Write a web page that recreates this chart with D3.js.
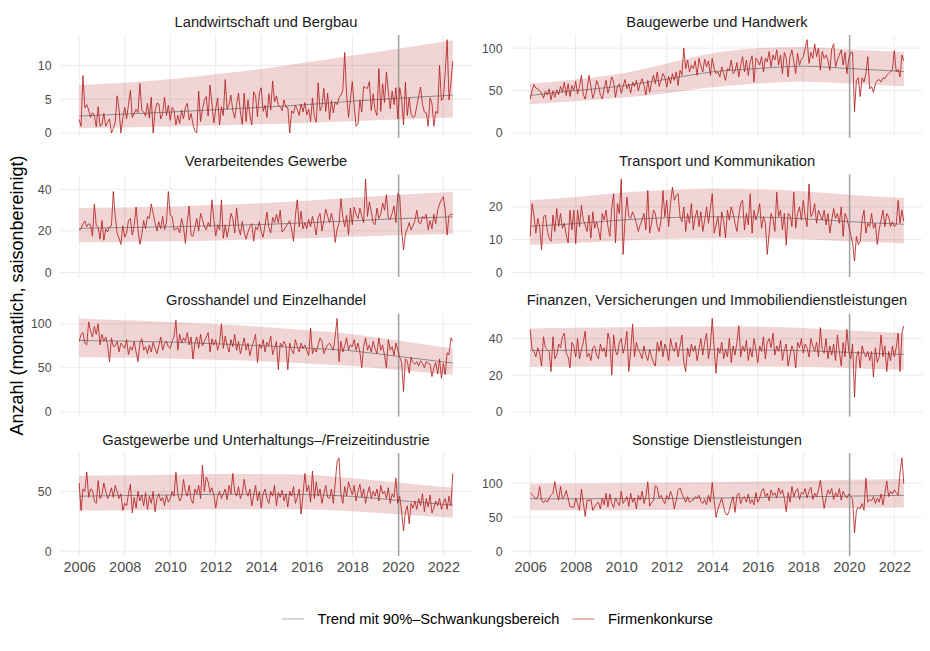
<!DOCTYPE html>
<html><head><meta charset="utf-8">
<script src="https://cdn.jsdelivr.net/npm/d3@7"></script>
<style>body{margin:0;background:#fff;} svg{display:block;font-family:"Liberation Sans",Arial,Helvetica,sans-serif;}</style>
</head><body><svg id="chart" width="930" height="651"></svg>
<script>
// ---------- data ----------
const startYear = 2006;            // first month: Jan 2006, monthly series
const panelTitles = [
  "Landwirtschaft und Bergbau", "Baugewerbe und Handwerk",
  "Verarbeitendes Gewerbe", "Transport und Kommunikation",
  "Grosshandel und Einzelhandel", "Finanzen, Versicherungen und Immobiliendienstleistungen",
  "Gastgewerbe und Unterhaltungs\u2013/Freizeitindustrie", "Sonstige Dienstleistungen"
];
const xTickYears = [2006,2008,2010,2012,2014,2016,2018,2020,2022];
const yTickValues = [[0,5,10],[0,50,100],[0,20,40],[0,10,20],[0,50,100],[0,20,40],[0,50],[0,50,100]];
const markerYear = 2020.04;
const legendLabels = ["Trend mit 90%\u2013Schwankungsbereich", "Firmenkonkurse"];
const yAxisTitle = "Anzahl (monatlich, saisonbereinigt)";

const landwirtschaft = [
2.0,1.0,8.5,3.7,4.2,3.4,2.3,3.0,2.6,0.9,3.9,1.0,
1.2,2.9,1.0,1.6,2.1,0.0,0.7,1.6,5.5,3.6,0.0,2.2,
3.8,2.1,4.2,6.3,2.3,2.9,3.5,3.0,7.3,3.4,3.1,2.5,
4.4,2.2,5.3,0.0,3.3,4.4,4.3,2.1,2.8,5.3,2.6,4.1,
1.9,3.8,3.4,1.2,2.6,1.4,3.4,2.1,3.8,4.4,1.9,2.9,
1.3,0.3,0.0,6.2,1.7,3.5,4.8,5.4,2.5,7.1,4.3,1.5,
3.6,5.2,1.2,3.9,2.6,7.9,3.5,4.2,5.6,3.3,2.2,4.2,
5.9,3.1,1.3,5.9,1.7,4.9,2.7,1.2,6.1,5.5,2.4,6.0,
6.7,3.2,4.1,2.3,5.8,3.4,7.7,4.6,5.5,4.1,3.9,3.3,
4.9,3.8,3.8,0.0,3.3,2.9,4.1,3.5,2.6,4.3,3.1,4.5,
2.7,3.5,1.7,5.2,2.4,1.6,7.4,3.3,3.9,6.6,3.2,5.9,
2.0,4.8,3.0,4.6,4.2,5.2,5.6,6.3,11.9,5.6,2.3,5.0,
7.6,4.0,1.0,1.3,4.9,3.1,6.9,6.7,6.6,7.6,3.3,5.8,
3.4,2.6,9.5,3.2,7.3,4.5,9.0,6.1,3.6,6.2,4.2,6.7,
2.1,6.7,5.1,1.2,7.5,2.6,5.2,2.8,2.3,2.5,4.0,5.5,
6.8,4.2,3.1,3.0,1.0,5.2,4.4,1.0,3.2,2.9,10.0,4.8,
5.2,9.0,13.8,4.9,7.5,10.6];
const baugewerbe = [
40,50,57,53,52,50,47,41,49,45,52,39,
50,42,51,45,55,48,60,44,58,43,56,50,
61,46,55,68,45,40,52,68,55,41,48,62,
56,45,40,52,62,47,55,66,60,42,55,58,
47,55,63,52,58,47,60,55,62,50,58,64,
56,45,62,48,60,68,58,72,55,62,70,66,
54,67,58,70,62,72,56,74,68,100,76,86,
72,80,76,85,68,88,79,72,87,78,85,68,
88,76,70,72,66,78,70,62,76,74,86,70,
73,83,66,80,90,72,86,68,84,91,60,88,
85,80,90,72,88,84,96,78,92,86,98,80,
92,70,95,88,66,90,98,84,70,94,80,87,
90,100,110,82,95,88,105,90,100,74,96,88,
92,86,74,99,105,78,86,92,98,80,95,70,
88,95,95,25,62,65,43,65,60,70,90,52,
55,48,58,62,63,60,65,64,68,70,72,75,
97,72,75,66,92,85];
const verarbeitendes = [
20.5,21.0,23.5,24.8,22.0,23.5,22.8,17.5,33.0,22.5,21.8,16.0,
25.0,15.5,21.0,19.5,22.0,22.5,39.0,27.0,19.0,16.5,13.5,22.5,
17.0,19.0,25.0,26.0,18.0,22.5,31.5,21.0,13.5,18.0,25.0,21.0,
27.0,26.0,33.0,28.5,24.0,20.0,24.5,21.0,27.0,20.5,24.0,39.0,
27.5,27.0,20.5,21.0,21.5,19.0,26.0,22.0,14.0,24.5,32.0,18.0,
17.5,21.5,26.0,20.0,28.5,25.5,22.0,20.5,24.0,22.0,35.0,25.5,
17.5,23.0,20.5,35.0,16.5,23.0,17.0,22.0,28.5,26.0,19.0,31.0,
22.0,18.0,24.5,19.5,16.0,19.5,22.0,23.5,15.0,22.0,20.5,24.5,
19.5,17.0,23.0,29.0,21.5,19.0,26.5,24.0,28.0,24.0,30.0,19.5,
20.5,22.0,23.5,25.0,21.0,15.0,27.5,35.0,22.0,29.5,21.0,24.0,
21.0,25.5,22.0,27.0,23.0,18.0,26.5,28.5,20.0,25.0,30.5,27.0,
24.0,28.5,24.5,14.5,21.0,23.5,35.5,27.0,22.0,27.5,18.0,31.0,
23.0,31.5,28.0,26.0,31.0,27.0,24.0,45.0,27.0,34.0,29.5,24.0,
23.0,31.0,26.0,28.0,33.5,30.0,37.5,26.0,25.5,28.5,32.0,24.0,
38.0,37.0,20.0,11.0,18.5,21.0,24.0,20.5,22.5,25.0,30.0,24.0,
23.5,27.0,26.0,28.0,20.5,25.0,21.0,28.0,23.5,30.0,33.0,35.0,
36.5,30.0,18.0,27.5,28.0,28.0];
const transport = [
11.0,21.0,17.5,12.0,16.5,14.0,7.0,17.0,17.5,13.0,10.5,9.5,
17.5,12.5,19.5,14.0,18.0,13.5,15.0,11.5,9.0,19.0,13.0,19.0,
8.8,19.0,14.0,20.5,16.0,14.5,12.5,17.5,10.5,18.5,13.5,15.5,
13.0,10.0,18.0,16.0,19.0,14.0,11.0,19.5,24.0,9.0,21.0,18.0,
28.5,5.5,16.0,23.0,17.0,16.5,18.5,17.0,15.0,12.5,14.5,16.0,
18.0,13.0,25.0,12.0,15.0,19.0,18.0,14.0,12.5,16.0,25.0,17.0,
22.0,14.0,21.0,26.0,22.0,23.5,24.0,17.0,15.5,20.0,12.5,18.0,
15.0,21.0,13.0,17.0,19.0,14.0,18.5,12.5,16.0,20.0,15.0,19.5,
24.0,12.0,14.5,17.0,11.0,18.5,15.5,10.5,19.0,16.0,20.0,18.0,
15.0,12.5,17.5,21.0,22.0,13.0,18.0,14.5,24.0,12.0,19.0,16.0,
18.0,21.0,13.5,17.0,15.0,5.5,12.0,18.0,16.5,12.5,24.5,17.0,
19.0,13.0,18.0,8.3,18.0,17.5,14.0,24.5,13.5,18.0,20.0,16.0,
22.0,17.0,14.0,27.0,17.0,18.0,21.0,15.0,19.0,17.5,16.0,19.0,
14.5,18.0,12.0,16.0,19.5,16.5,18.0,15.0,20.0,11.0,18.0,16.5,
14.0,11.5,9.0,3.5,11.0,8.5,9.5,16.0,19.0,12.0,15.0,14.0,
18.0,13.5,15.0,8.5,13.0,16.0,19.0,14.0,18.0,17.0,14.0,15.5,
14.0,14.5,22.0,15.0,19.0,15.5];
const grosshandel = [
80,88,90,78,76,102,92,85,97,88,100,76,
88,80,85,76,57,84,74,75,80,68,78,75,
72,82,65,74,70,80,68,57,78,83,70,74,
66,76,68,79,72,66,75,85,70,77,80,74,
72,80,85,104,70,88,78,84,80,90,76,85,
60,78,85,72,88,75,80,85,90,68,83,76,
82,70,78,100,72,86,75,68,82,74,88,70,
80,66,75,84,70,78,64,73,80,88,56,77,
72,82,68,79,75,86,65,72,80,48,78,74,
80,75,48,78,70,66,82,74,68,78,72,76,
70,64,95,66,72,68,76,84,80,66,72,76,
78,74,70,86,106,57,80,68,75,84,70,76,
74,82,70,78,68,50,74,84,70,76,68,80,
72,66,84,70,76,64,50,82,70,74,64,78,
70,62,56,23,60,58,44,62,56,54,57,52,
58,55,50,57,55,54,40,50,56,43,60,38,
55,42,67,65,84,80];
const finanzen = [
45,34,33,30,35,32,25,41,35,34,33,22,
41,29,31,37,35,41,43,32,30,24,38,36,
30,40,29,34,38,44,30,32,28,35,36,31,
29,37,33,35,30,43,39,20,42,33,31,38,
40,32,36,44,22,33,48,30,38,34,32,29,
36,31,28,34,30,27,25,38,33,39,30,37,
34,28,40,35,33,38,30,36,42,27,22,35,
30,37,33,36,28,34,40,31,38,43,29,36,
51,35,21,35,32,38,29,34,30,40,27,36,
31,38,47,30,36,33,39,28,35,30,40,34,
27,36,33,41,29,38,40,35,43,31,36,33,
39,28,34,37,25,31,36,33,24,38,35,40,
32,37,35,30,40,36,33,38,30,46,34,32,
40,29,36,31,37,28,42,33,25,38,30,45,
33,29,37,8,30,33,24,36,32,30,33,28,
33,19,35,27,30,42,30,36,22,33,28,36,
30,35,43,22,43,47];
const gastgewerbe = [
57,34,52,50,66,45,52,51,42,40,59,44,
47,57,50,44,47,53,45,55,50,44,48,34,
40,38,48,56,32,45,36,50,42,47,38,49,
35,46,40,50,33,44,48,42,45,38,47,41,
44,50,46,66,48,42,45,60,50,46,55,43,
40,52,48,55,44,72,50,62,58,49,53,47,
36,46,50,44,48,52,43,55,48,65,50,46,
54,44,48,60,50,46,52,38,47,55,42,50,
36,48,52,44,40,50,46,55,38,49,45,51,
42,48,37,50,46,54,40,45,52,31,47,65,
50,55,41,67,44,58,46,52,40,48,55,45,
44,52,40,57,75,78,48,40,54,46,58,52,
47,55,42,50,56,45,52,40,48,54,44,50,
46,52,42,55,48,50,44,53,40,48,45,61,
40,46,33,17,33,38,23,40,36,42,35,44,
38,48,33,44,37,47,32,36,42,38,44,35,
40,44,35,46,38,65];
const sonstige = [
86,83,80,77,79,95,75,71,75,72,78,82,
85,102,85,75,95,77,80,89,78,65,65,64,
78,70,60,91,72,51,75,74,76,60,65,70,
72,62,78,68,85,65,84,70,64,78,72,67,
88,70,75,80,66,85,72,78,62,82,75,88,
70,80,102,66,72,74,96,94,78,82,75,70,
82,76,88,80,62,75,90,93,85,78,72,80,
72,74,75,80,78,82,73,70,76,68,82,72,
101,74,50,62,70,78,65,55,53,60,72,80,
57,82,85,70,78,80,72,84,70,76,68,86,
72,78,88,92,80,85,74,90,82,86,78,93,
84,90,78,58,86,72,95,80,88,92,76,86,
84,92,78,88,94,76,85,80,90,104,82,63,
78,90,84,92,76,86,80,92,75,88,82,78,
84,80,76,27,60,65,62,70,60,107,72,76,
74,80,70,78,72,84,68,85,103,80,88,84,
90,86,82,115,137,99];

// trend and 90% band, read at these dates
const trendYears = [2006,2008,2010,2012,2014,2016,2018,2020,2022.4167];
const trendLandwirtschaft = [2.5,2.8,3.1,3.45,3.8,4.2,4.7,5.15,5.6];
const lowerLandwirtschaft = [0.7,0.8,0.95,1.1,1.3,1.5,1.75,2.0,2.3];
const upperLandwirtschaft = [7.1,7.45,7.95,8.7,9.45,10.45,11.45,12.45,13.7];
const trendBaugewerbe = [44.3,50,55.3,63.5,72,76,78.8,76,72.5];
const lowerBaugewerbe = [34,37.5,41.5,47,54,58.5,60.5,58.5,55];
const upperBaugewerbe = [58.4,63,70,82,94,100,101.5,98.5,95.5];
const trendVerarbeitendes = [21.3,21.6,22.0,22.5,23.1,23.9,24.9,25.9,26.8];
const lowerVerarbeitendes = [14.5,14.7,15.0,15.4,15.9,16.5,17.2,17.9,18.5];
const upperVerarbeitendes = [31.0,31.3,31.8,32.5,33.3,34.5,36.0,37.5,38.8];
const trendTransport = [14.1,14.9,16.0,16.7,17.0,16.9,16.4,15.5,14.7];
const lowerTransport = [8.4,9.0,9.7,10.2,10.4,10.4,10.1,9.5,8.9];
const upperTransport = [22.0,23.0,24.3,25.2,25.6,25.4,24.8,23.7,22.7];
const trendGrosshandel = [81,80.3,79.2,77.3,75,72.4,69.2,63,55.4];
const lowerGrosshandel = [62,61.5,60.5,59,57.5,55,52,47.5,42];
const upperGrosshandel = [106,104,102,99.5,96.5,92.5,88,81,72];
const trendFinanzen = [33.5,33.6,33.7,33.8,33.9,33.8,33.4,32.5,31.3];
const lowerFinanzen = [24.5,24.6,24.7,24.8,24.9,24.8,24.5,23.8,23.0];
const upperFinanzen = [45.5,45.9,46.2,46.5,46.6,46.5,45.8,44.5,43.0];
const trendGastgewerbe = [46,46.5,47,47.5,47.5,47.3,45.8,42.5,38.5];
const lowerGastgewerbe = [34,34.3,34.7,35,35,34.8,33.5,31,28];
const upperGastgewerbe = [63,63.5,64,64.5,64.5,64,61,57.5,53];
const trendSonstige = [77,77,77.2,77.5,78,78.8,79.8,80.8,82];
const lowerSonstige = [60,60.1,60.3,60.6,61.1,61.8,62.6,63.3,64];
const upperSonstige = [99,99.3,99.8,100.5,101.3,102.3,103.5,104.8,106];

// ---------- assemble ----------
const seriesValues = [landwirtschaft, baugewerbe, verarbeitendes, transport, grosshandel, finanzen, gastgewerbe, sonstige];
const trends = [trendLandwirtschaft, trendBaugewerbe, trendVerarbeitendes, trendTransport, trendGrosshandel, trendFinanzen, trendGastgewerbe, trendSonstige];
const lowers = [lowerLandwirtschaft, lowerBaugewerbe, lowerVerarbeitendes, lowerTransport, lowerGrosshandel, lowerFinanzen, lowerGastgewerbe, lowerSonstige];
const uppers = [upperLandwirtschaft, upperBaugewerbe, upperVerarbeitendes, upperTransport, upperGrosshandel, upperFinanzen, upperGastgewerbe, upperSonstige];

const svg = d3.select('#chart');
const colX = [60.5, 511.5], panelW = 411, panelH = 102.7, rowTop0 = 35, rowPitch = 139.4;
const redLine = '#b22222', trendCol = '#8a8a8a', bandFill = 'rgba(178,34,34,0.19)', gridCol = '#ebebeb';

seriesValues.forEach((vals, i) => {
  const col = i % 2, row = Math.floor(i / 2);
  const g = svg.append('g').attr('transform', `translate(${colX[col]},${rowTop0 + row * rowPitch})`);
  const pts = vals.map((v, m) => ({t: startYear + m / 12, v}));
  const t0 = pts[0].t, t1 = pts[pts.length - 1].t, ex = 0.05 * (t1 - t0);
  const x = d3.scaleLinear().domain([t0 - ex, t1 + ex]).range([0, panelW]);
  const ymax = Math.max(d3.max(vals), d3.max(uppers[i]));
  const y = d3.scaleLinear().domain([-0.05 * ymax, ymax * 1.05]).range([panelH, 0]);

  // grid
  g.selectAll('.gx').data(xTickYears).join('line')
    .attr('x1', d => x(d)).attr('x2', d => x(d)).attr('y1', 0).attr('y2', panelH)
    .attr('stroke', gridCol).attr('stroke-width', 1);
  g.selectAll('.gy').data(yTickValues[i]).join('line')
    .attr('x1', 0).attr('x2', panelW).attr('y1', d => y(d)).attr('y2', d => y(d))
    .attr('stroke', gridCol).attr('stroke-width', 1);

  // y axis labels
  const yAxis = d3.axisLeft(y).tickValues(yTickValues[i]).tickSize(0).tickPadding(9);
  const ya = g.append('g').call(yAxis);
  ya.select('.domain').remove();
  ya.selectAll('text').attr('fill', '#4d4d4d').style('font-size', '12.3px').attr('font-family', null);

  // x axis labels (bottom row only)
  if (row === 3) {
    const xAxis = d3.axisBottom(x).tickValues(xTickYears).tickFormat(d3.format('d')).tickSize(0).tickPadding(6);
    const xa = g.append('g').attr('transform', `translate(0,${panelH})`).call(xAxis);
    xa.select('.domain').remove();
    xa.selectAll('text').attr('fill', '#4d4d4d').style('font-size', '14.5px').attr('font-family', null);
  }

  // band and trend
  const knots = trendYears.map((t, k) => ({t, tr: trends[i][k], lo: lowers[i][k], up: uppers[i][k]}));
  g.append('path').datum(knots)
    .attr('d', d3.area().x(d => x(d.t)).y0(d => y(d.lo)).y1(d => y(d.up)).curve(d3.curveMonotoneX))
    .attr('fill', bandFill);

  // 2020 marker
  g.append('line').attr('x1', x(markerYear)).attr('x2', x(markerYear)).attr('y1', 0).attr('y2', panelH)
    .attr('stroke', '#9a9a9a').attr('stroke-width', 1.3);

  g.append('path').datum(knots)
    .attr('d', d3.line().x(d => x(d.t)).y(d => y(d.tr)).curve(d3.curveMonotoneX))
    .attr('fill', 'none').attr('stroke', trendCol).attr('stroke-width', 1);

  g.append('path').datum(pts)
    .attr('d', d3.line().x(d => x(d.t)).y(d => y(d.v)))
    .attr('fill', 'none').attr('stroke', redLine).attr('stroke-width', 0.85).attr('stroke-linejoin', 'round');

  // strip title
  g.append('text').attr('x', panelW / 2).attr('y', -8.5).attr('text-anchor', 'middle')
    .attr('fill', '#1a1a1a').style('font-size', '14.7px').text(panelTitles[i]);
});

// y axis title
svg.append('text').attr('transform', `translate(23,${rowTop0 + (3 * rowPitch + panelH) / 2}) rotate(-90)`)
  .attr('text-anchor', 'middle').attr('fill', '#000').style('font-size', '18px').text(yAxisTitle);

// legend
const legY = 619;
const legendItems = [
  {label: legendLabels[0], color: '#bdbdbd', x: 282},
  {label: legendLabels[1], color: '#e08a8a', x: 572.5}
];
legendItems.forEach(it => {
  svg.append('line').attr('x1', it.x).attr('x2', it.x + 22).attr('y1', legY).attr('y2', legY)
    .attr('stroke', it.color).attr('stroke-width', 1.2);
  svg.append('text').attr('x', it.x + 35.5).attr('y', legY + 5.2).attr('fill', '#000')
    .style('font-size', '14.65px').text(it.label);
});
</script></body></html>
